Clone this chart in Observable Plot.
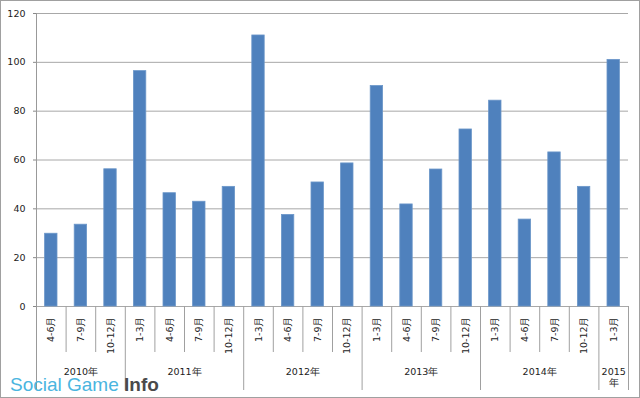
<!DOCTYPE html>
<html>
<head>
<meta charset="utf-8">
<script src="https://cdn.jsdelivr.net/npm/d3@7"></script>
<script src="https://cdn.jsdelivr.net/npm/@observablehq/plot@0.6"></script>
<style>
  html, body { margin: 0; padding: 0; background: #fff; }
  #wrap { position: relative; width: 640px; height: 398px; overflow: hidden; }
  #border { position: absolute; left: 0; top: 0; width: 638px; height: 396px; border: 1px solid #a0a0a0; pointer-events: none; }
  #wm { position: absolute; left: 10px; top: 373px; font-family: "Liberation Sans", Arial, sans-serif; font-size: 19px; line-height: 23px; white-space: nowrap; }
  #wm .a { color: #4ab5df; font-weight: normal; }
  #wm .b { color: #4a4a4a; font-weight: bold; }
</style>
</head>
<body>
<div id="wrap">
  <div id="chart"></div>
  <div id="wm"><span class="a">Social Game </span><span class="b">Info</span></div>
  <div id="border"></div>
</div>
<script>
const quarters = ["4-6月","7-9月","10-12月","1-3月","4-6月","7-9月","10-12月","1-3月","4-6月","7-9月","10-12月","1-3月","4-6月","7-9月","10-12月","1-3月","4-6月","7-9月","10-12月","1-3月"];
const values = [29.8,33.5,56.2,96.4,46.4,42.9,49.0,111.0,37.5,50.8,58.6,90.3,41.8,56.1,72.5,84.3,35.6,63.1,49.0,101.0];
const years = ["2010年","2011年","2012年","2013年","2014年","2015年"];
const yearQuarterCounts = [3,4,4,4,4,1];
const yTicks = [0,20,40,60,80,100,120];

const bars = quarters.map((q, i) => ({i, q, v: values[i]}));
let acc = 0;
const yearGroups = years.map((y, k) => {
  const g = {label: y, start: acc, count: yearQuarterCounts[k]};
  acc += yearQuarterCounts[k];
  return g;
});
const yearBounds = [0, ...yearGroups.map(g => g.start + g.count)];
const quarterBounds = d3.range(1, quarters.length).filter(b => !yearBounds.includes(b));

const chart = Plot.plot({
  width: 640,
  height: 398,
  marginLeft: 36,
  marginRight: 12,
  marginTop: 13,
  marginBottom: 8,
  style: {fontFamily: "DejaVu Sans, sans-serif", fontSize: "9.5px", background: "transparent", color: "#222"},
  x: {type: "linear", domain: [0, quarters.length], axis: null, label: null},
  y: {domain: [0, 120], range: [306, 13], axis: null, label: null},
  marks: [
    Plot.ruleY(yTicks, {stroke: "#a8a8a8", strokeWidth: 1}),
    Plot.rectY(bars, {x1: d => d.i, x2: d => d.i + 1, y: "v", fill: "#4f81bd", stroke: "#6b96c9", strokeWidth: 0.8, insetLeft: 8.6, insetRight: 8.6}),
    Plot.axisY(yTicks, {tickSize: 3, tickPadding: 8, stroke: "#888", fill: "#222", fontSize: 9.5, label: null}),
    Plot.ruleX([0], {stroke: "#999"}),
    Plot.ruleX(yearBounds.slice(1), {stroke: "#a0a0a0", insetTop: 293}),
    Plot.ruleX(quarterBounds, {stroke: "#a0a0a0", insetTop: 293, insetBottom: 38}),
    Plot.text(bars, {x: d => d.i + 0.5, y: () => 0, text: "q", rotate: -90, textAnchor: "end", dy: 10, fill: "#222", fontSize: 9.5}),
    Plot.text(yearGroups, {
      x: d => d.start + d.count / 2, y: () => 0,
      text: d => d.count === 1 ? d.label.replace("年", "\n年") : d.label,
      lineAnchor: "top", lineHeight: 1.2, dy: 60.5, fill: "#222", fontSize: 9.5
    })
  ]
});
document.getElementById("chart").appendChild(chart);
</script>
</body>
</html>
